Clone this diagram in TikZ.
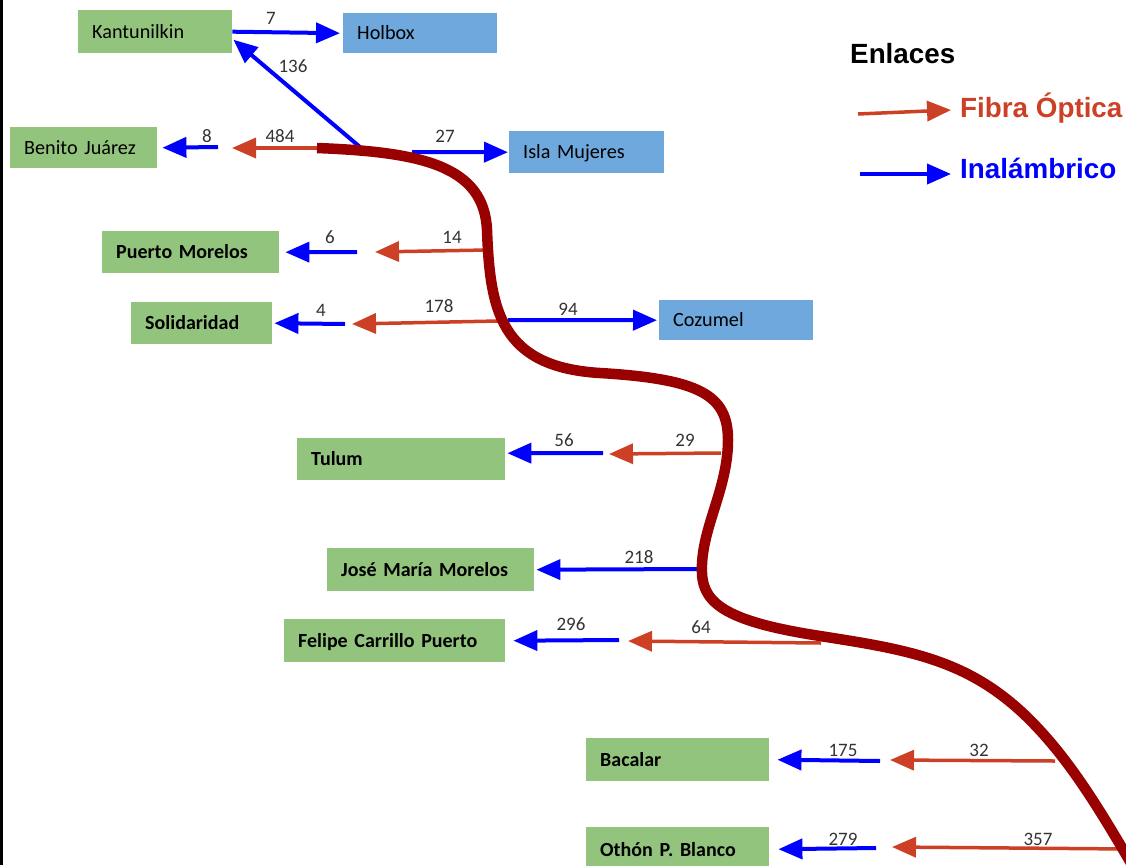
\documentclass[tikz,border=0pt]{standalone}
\usepackage{fontspec}
\setmainfont{Carlito}
\newfontfamily\legfont{Liberation Sans}
\usetikzlibrary{arrows.meta}
\definecolor{boxgreen}{HTML}{93C47D}
\definecolor{boxblue}{HTML}{6FA8DC}
\definecolor{fibred}{HTML}{CC4125}
\definecolor{wlblue}{HTML}{0000FF}
\definecolor{trunk}{HTML}{990000}
\definecolor{lblgray}{HTML}{333333}
\begin{document}
\begin{tikzpicture}[x=1pt,y=-1pt,
  box/.style={anchor=north west, inner xsep=14pt, inner ysep=0pt, align=left,
    font=\fontsize{20.2}{21}\selectfont, text height=15pt, text depth=2pt, text=black},
  gbox/.style={box, fill=boxgreen},
  gboxb/.style={box, fill=boxgreen, font=\fontsize{20}{21}\selectfont\bfseries},
  bbox/.style={box, fill=boxblue},
  wl/.style={draw=wlblue, line width=4pt, -{Triangle[length=24pt,width=20pt]}},
  fo/.style={draw=fibred, line width=3.5pt, -{Triangle[length=24pt,width=20pt]}},
  lbl/.style={anchor=base, text=lblgray, inner sep=0pt, font=\fontsize{19}{20}\selectfont},
  legtext/.style={anchor=base west, inner sep=0pt, font=\legfont\bfseries\fontsize{27.8}{30}\selectfont},
  trunkline/.style={draw=trunk, line width=10.5pt}
]
\useasboundingbox (0,0) rectangle (1126,865);
\clip (0,0) rectangle (1126,865);
\fill[black] (0,0) rectangle (2.5,865);

% boxes
\node[gbox, minimum height=43pt, text width=126pt] (kan) at (78,10) {Kantunilkin};
\node[bbox, minimum height=40pt, text width=126pt] (hol) at (343,13) {Holbox};
\node[gbox, minimum height=41pt, text width=119pt] (bj) at (10,127) {Benito Juárez};
\node[bbox, minimum height=42pt, text width=127pt] (im) at (509,131) {Isla Mujeres};
\node[gboxb, minimum height=42pt, text width=149pt] (pm) at (102,231) {Puerto Morelos};
\node[gboxb, minimum height=42pt, text width=113pt] (sol) at (131,302) {Solidaridad};
\node[bbox, minimum height=40pt, text width=126pt] (coz) at (659,300) {Cozumel};
\node[gboxb, minimum height=42pt, text width=180pt] (tul) at (297,438) {Tulum};
\node[gboxb, minimum height=43pt, text width=179pt] (jmm) at (327,548) {José María Morelos};
\node[gboxb, minimum height=43pt, text width=193pt] (fcp) at (284,619) {Felipe Carrillo Puerto};
\node[gboxb, minimum height=43pt, text width=155pt] (bac) at (586,738) {Bacalar};
\node[gboxb, minimum height=46pt, text width=155pt] (oth) at (586,827) {Othón P. Blanco};

% free ends
\coordinate (c136) at (360,147);
\coordinate (c484) at (317,148);
\coordinate (r484) at (232,148);
\coordinate (g8) at (218,147);
\coordinate (c27) at (412,152);
\coordinate (c14) at (487,250);
\coordinate (r14) at (375,252);
\coordinate (g6) at (357,252);
\coordinate (c178) at (498,321);
\coordinate (r178) at (352,324);
\coordinate (g4) at (345,324);
\coordinate (c94) at (508,320);
\coordinate (c29) at (721,453);
\coordinate (r29) at (609,454);
\coordinate (g56) at (603,453);
\coordinate (c218) at (700,569);
\coordinate (c64) at (821,643);
\coordinate (r64) at (628,641);
\coordinate (g296) at (619,640);
\coordinate (c32) at (1055,761);
\coordinate (r32) at (890,760);
\coordinate (g175) at (880,761);
\coordinate (c357) at (1130,849);
\coordinate (r357) at (892,847);
\coordinate (g279) at (876,848);

% connectors
\draw[wl] (kan.east) -- ([xshift=-3pt]hol.west);
\draw[wl] (c136) -- ([xshift=1pt,yshift=-8pt]kan.east);
\draw[fo] (c484) -- (r484);
\draw[wl] (g8) -- ([xshift=5pt]bj.east);
\draw[wl] (c27) -- ([xshift=-1pt]im.west);
\draw[fo] (c14) -- (r14);
\draw[wl] (g6) -- ([xshift=6pt]pm.east);
\draw[fo] (c178) -- (r178);
\draw[wl] (g4) -- ([xshift=2pt]sol.east);
\draw[wl] (c94) -- ([xshift=-2pt]coz.west);
\draw[fo] (c29) -- (r29);
\draw[wl] (g56) -- ([xshift=2pt,yshift=6pt]tul.east);
\draw[wl] (c218) -- ([xshift=2pt]jmm.east);
\draw[fo] (c64) -- (r64);
\draw[wl] (g296) -- ([xshift=8pt]fcp.east);
\draw[fo] (c32) -- (r32);
\draw[wl] (g175) -- ([xshift=8pt]bac.east);
\draw[fo] (c357) -- (r357);
\draw[wl] (g279) -- ([xshift=9pt,yshift=1pt]oth.east);

% trunk
\draw[trunkline] (c484) .. controls (420,152) and (484,165) .. (487,230)
  .. controls (490,310) and (500,367) .. (600,373)
  .. controls (700,379) and (728,395) .. (728,440)
  .. controls (728,490) and (700,530) .. (702,573)
  .. controls (703,605) and (730,622) .. (820,636)
  .. controls (910,650) and (970,660) .. (1030,720)
  .. controls (1070,760) and (1100,810) .. (1135,870);

% labels
\node[lbl] (l7) at (271,24) {7};
\node[lbl] (l136) at (293,72) {136};
\node[lbl] (l484) at (280,142) {484};
\node[lbl] (l8) at (207,142) {8};
\node[lbl] (l27) at (445,142) {27};
\node[lbl] (l14) at (452,243) {14};
\node[lbl] (l6) at (330,243) {6};
\node[lbl] (l178) at (439,312) {178};
\node[lbl] (l4) at (321,316) {4};
\node[lbl] (l94) at (568,315) {94};
\node[lbl] (l56) at (564,446) {56};
\node[lbl] (l29) at (685,446) {29};
\node[lbl] (l218) at (639,563) {218};
\node[lbl] (l296) at (571,630) {296};
\node[lbl] (l64) at (701,633) {64};
\node[lbl] (l175) at (843,756) {175};
\node[lbl] (l32) at (979,756) {32};
\node[lbl] (l279) at (843,845) {279};
\node[lbl] (l357) at (1038,845) {357};

% legend
\node[legtext] (enl) at (850,63) {Enlaces};
\node[legtext, text=fibred] (lfo) at (960,117) {Fibra Óptica};
\node[legtext, text=wlblue] (lwl) at (960,178) {Inalámbrico};
\coordinate (lf0) at (858,114);
\coordinate (lw0) at (860,174);
\draw[fo] (lf0) -- ([xshift=-9pt,yshift=7pt]lfo.base west);
\draw[wl] (lw0) -- ([xshift=-9pt,yshift=4pt]lwl.base west);
\end{tikzpicture}
\end{document}
